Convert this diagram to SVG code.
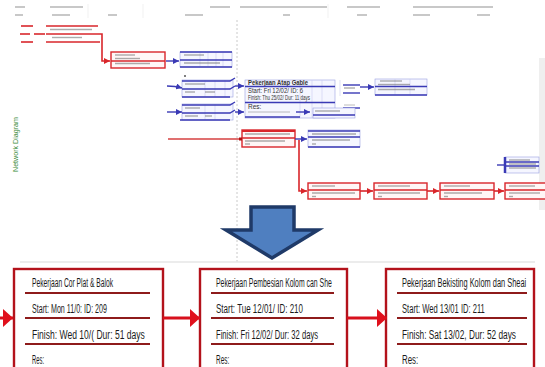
<svg xmlns="http://www.w3.org/2000/svg" width="545" height="367" viewBox="0 0 545 367">
<style>
.hdr{fill:#c8c8c8}
.r{stroke:#d9262b;stroke-width:1.6;fill:none}
.rbox{stroke:#d9262b;stroke-width:1.4;fill:#fff6f6}
.b{stroke:#3a3ab5;stroke-width:1.4;fill:none}
.bbox{stroke:#9aa0e0;stroke-width:0.6;fill:#f5f6ff}
.grid{stroke:#c9ccf0;stroke-width:0.6}
.blur{stroke:#6a6a6a;stroke-width:1.4;opacity:.55}
.small{font-family:"Liberation Sans",Arial,sans-serif;font-size:6.5px;fill:#333}
.big{stroke:#b3121b;stroke-width:2.4;fill:#fff}
.div{stroke:#8e1b1b;stroke-width:2}
.t{font-family:"Liberation Sans",Arial,sans-serif;font-size:13.5px;fill:#1a1a1a}
.con{stroke:#d8101c;stroke-width:3;fill:none}
</style>
<defs>
<marker id="ra" markerUnits="userSpaceOnUse" markerWidth="6" markerHeight="6" refX="6" refY="3" orient="auto"><path d="M0,0 L6,3 L0,6 z" fill="#d9262b"/></marker>
<marker id="ba" markerUnits="userSpaceOnUse" markerWidth="6" markerHeight="6" refX="6" refY="3" orient="auto"><path d="M0,0 L6,3 L0,6 z" fill="#3a3ab5"/></marker>
<marker id="RA" markerUnits="userSpaceOnUse" markerWidth="10" markerHeight="18" refX="10" refY="9" orient="auto"><path d="M0,0 L10,9 L0,18 z" fill="#e0101c"/></marker>
</defs>

<!-- header of screenshot -->
<g id="header">
<rect class="hdr" x="15" y="6" width="10" height="2"/><rect class="hdr" x="50" y="6" width="33" height="2"/>
<rect class="hdr" x="210" y="6" width="20" height="2"/><rect class="hdr" x="240" y="6" width="87" height="2"/>
<rect class="hdr" x="347" y="6" width="33" height="2"/><rect class="hdr" x="413" y="6" width="80" height="2"/>
<rect class="hdr" x="15" y="14" width="8" height="2"/><rect class="hdr" x="52" y="14" width="18" height="2"/>
<rect class="hdr" x="108" y="14" width="9" height="2"/><rect class="hdr" x="185" y="14" width="18" height="2"/>
<rect class="hdr" x="283" y="14" width="7" height="2"/><rect class="hdr" x="357" y="14" width="10" height="2"/>
<rect class="hdr" x="413" y="14" width="17" height="2"/><rect class="hdr" x="477" y="14" width="13" height="2"/>
<line x1="88" y1="4" x2="88" y2="18" stroke="#eee" stroke-width="0.8"/>
<line x1="143" y1="4" x2="143" y2="18" stroke="#eee" stroke-width="0.8"/>
<line x1="328" y1="4" x2="328" y2="18" stroke="#eee" stroke-width="0.8"/>
</g>
<line x1="237" y1="20" x2="237" y2="262" stroke="#bdbdbd" stroke-width="0.8" stroke-dasharray="2,2"/>
<rect x="539" y="58" width="6" height="152" fill="#efefef"/>
<text x="18" y="172" transform="rotate(-90 18 172)" font-family="Liberation Sans,Arial,sans-serif" font-size="6.5" fill="#3c8c3c" textLength="55" lengthAdjust="spacingAndGlyphs">Network Diagram</text>

<!-- top network nodes -->
<g id="top-n0">
<line class="r" x1="21" y1="26" x2="33" y2="26"/><line class="r" x1="46" y1="26" x2="98" y2="26"/>
<line class="r" x1="20" y1="34" x2="30" y2="34"/><line class="r" x1="34" y1="34" x2="45" y2="34"/><line class="r" x1="46" y1="34" x2="98" y2="34"/>
<line class="r" x1="21" y1="42" x2="33" y2="42"/><line class="r" x1="46" y1="42" x2="100" y2="42"/>
<line class="blur" x1="50" y1="29.5" x2="92" y2="29.5"/><line class="blur" x1="52" y1="37.5" x2="82" y2="37.5"/>
</g>
<g id="top-n1">
<rect class="rbox" x="111" y="52" width="54" height="16"/>
<line class="blur" x1="115" y1="55" x2="135" y2="55"/><line class="blur" x1="115" y1="58.5" x2="140" y2="58.5"/>
<line class="r" x1="111" y1="61" x2="165" y2="61"/>
<line class="blur" x1="115" y1="63.5" x2="150" y2="63.5"/>
</g>
<g id="top-n2">
<rect class="bbox" x="180" y="52" width="52" height="15"/>
<line class="grid" x1="200" y1="52" x2="200" y2="67"/><line class="grid" x1="208" y1="52" x2="208" y2="67"/><line class="grid" x1="216" y1="52" x2="216" y2="67"/><line class="grid" x1="223" y1="52" x2="223" y2="67"/>
<line class="b" x1="180" y1="52" x2="232" y2="52"/>
<line class="blur" x1="184" y1="55" x2="204" y2="55"/>
<line class="b" x1="180" y1="60" x2="232" y2="60"/>
<line class="blur" x1="184" y1="63" x2="220" y2="63"/>
<line class="b" x1="180" y1="67" x2="232" y2="67"/>
<circle cx="185" cy="76" r="1" fill="#555"/>
</g>
<g id="top-n3">
<rect class="bbox" x="182" y="80" width="51" height="17"/>
<line class="grid" x1="205" y1="80" x2="205" y2="97"/><line class="grid" x1="215" y1="80" x2="215" y2="97"/><line class="grid" x1="225" y1="80" x2="225" y2="97"/>
<path class="b" d="M182 81 H230 L235 78 M182 89 H230 L235 86 M182 97 H230"/>
<line class="blur" x1="185" y1="84" x2="205" y2="84"/><line class="blur" x1="185" y1="92" x2="195" y2="92"/><line class="blur" x1="205" y1="92" x2="215" y2="92"/>
</g>
<g id="top-n4">
<rect class="bbox" x="182" y="104" width="51" height="16"/>
<line class="grid" x1="205" y1="104" x2="205" y2="120"/><line class="grid" x1="215" y1="104" x2="215" y2="120"/>
<path class="b" d="M182 105 H230 L235 102 M182 113 H230 L235 110 M180 120 H230"/>
<line class="blur" x1="185" y1="108" x2="200" y2="108"/><line class="blur" x1="185" y1="116" x2="198" y2="116"/><line class="blur" x1="205" y1="116" x2="212" y2="116"/>
</g>
<g id="top-n5">
<rect class="bbox" x="245" y="80" width="90" height="38"/>
<line class="grid" x1="300" y1="80" x2="300" y2="118"/><line class="grid" x1="312" y1="80" x2="312" y2="118"/><line class="grid" x1="322" y1="80" x2="322" y2="118"/>
<text class="small" x="248" y="84.5" font-weight="bold" textLength="60" lengthAdjust="spacingAndGlyphs">Pekerjaan Atap Gable</text>
<line class="b" x1="245" y1="86.5" x2="335" y2="86.5"/>
<text class="small" x="248" y="92.5" textLength="55" lengthAdjust="spacingAndGlyphs">Start: Fri 12/02/  ID: 6</text>
<text class="small" x="248" y="100" textLength="62" lengthAdjust="spacingAndGlyphs">Finish: Thu 25/02/ Dur: 11 days</text>
<line class="b" x1="245" y1="102.5" x2="335" y2="102.5"/>
<text class="small" x="248" y="108.5">Res:</text>
<line class="blur" x1="248" y1="112" x2="290" y2="112" style="stroke-width:0.8"/>
<line class="b" x1="245" y1="117" x2="300" y2="117"/>
</g>
<g id="top-n6">
<line class="grid" x1="340" y1="80" x2="340" y2="96"/>
<line class="b" x1="343" y1="85" x2="360" y2="85"/><line class="b" x1="343" y1="93" x2="360" y2="93"/>
<line class="blur" x1="344" y1="88" x2="355" y2="88"/>
<line class="blur" x1="344" y1="105" x2="355" y2="105" style="stroke-width:0.8"/>
<line class="b" x1="343" y1="108" x2="360" y2="108"/>
</g>
<g id="top-n7">
<rect class="bbox" x="375" y="79" width="52" height="16"/>
<line class="grid" x1="395" y1="79" x2="395" y2="95"/><line class="grid" x1="410" y1="79" x2="410" y2="95"/>
<line class="blur" x1="380" y1="81" x2="402" y2="81"/><line class="blur" x1="378" y1="84.5" x2="410" y2="84.5"/>
<line class="b" x1="375" y1="86.5" x2="427" y2="86.5"/>
<line class="blur" x1="378" y1="89.5" x2="415" y2="89.5"/>
<line class="b" x1="375" y1="95" x2="427" y2="95"/>
</g>
<g id="top-n8">
<rect class="bbox" x="313" y="108" width="42" height="10"/>
<line class="blur" x1="315" y1="111" x2="340" y2="111"/>
<line class="b" x1="313" y1="115" x2="355" y2="115"/>
</g>
<g id="top-n9">
<rect class="rbox" x="242" y="130" width="53" height="17"/>
<line x1="242" y1="131" x2="295" y2="131" stroke="#d9262b" stroke-width="2.2"/>
<line class="blur" x1="245" y1="134" x2="290" y2="134"/>
<line class="r" x1="242" y1="138" x2="295" y2="138"/>
<line class="blur" x1="245" y1="141" x2="285" y2="141"/><line class="blur" x1="245" y1="144" x2="250" y2="144"/>
</g>
<g id="top-n10">
<rect class="bbox" x="308" y="130" width="52" height="17"/>
<line class="b" x1="308" y1="131" x2="360" y2="131"/>
<line class="blur" x1="312" y1="134" x2="356" y2="134"/>
<line class="b" x1="308" y1="137" x2="360" y2="137"/>
<line class="blur" x1="312" y1="140" x2="350" y2="140"/><line class="blur" x1="312" y1="144" x2="316" y2="144"/>
<line class="b" x1="308" y1="147" x2="360" y2="147"/>
</g>
<g id="top-n11">
<rect class="bbox" x="505" y="157" width="34" height="16"/>
<line x1="505" y1="157" x2="505" y2="173" stroke="#3a3ab5" stroke-width="2.5"/>
<line class="blur" x1="509" y1="160" x2="530" y2="160"/><line class="blur" x1="509" y1="164" x2="536" y2="164"/><line class="blur" x1="509" y1="168" x2="536" y2="168"/>
<line class="b" x1="505" y1="162" x2="539" y2="162"/><line class="b" x1="505" y1="166" x2="539" y2="166"/>
</g>
<g id="top-r1"><rect class="rbox" x="308" y="183" width="52" height="16"/><line class="blur" x1="312" y1="186" x2="335" y2="186"/><line class="r" x1="308" y1="190" x2="360" y2="190"/><line class="blur" x1="312" y1="193" x2="355" y2="193"/><line class="blur" x1="312" y1="196.5" x2="316" y2="196.5"/></g>
<g id="top-r2"><rect class="rbox" x="374" y="183" width="53" height="16"/><line class="blur" x1="378" y1="186" x2="410" y2="186"/><line class="r" x1="374" y1="190" x2="427" y2="190"/><line class="blur" x1="378" y1="193" x2="420" y2="193"/><line class="blur" x1="378" y1="196.5" x2="382" y2="196.5"/></g>
<g id="top-r3"><rect class="rbox" x="440" y="183" width="54" height="16"/><line class="blur" x1="444" y1="186" x2="470" y2="186"/><line class="r" x1="440" y1="190" x2="494" y2="190"/><line class="blur" x1="444" y1="193" x2="482" y2="193"/><line class="blur" x1="444" y1="196.5" x2="448" y2="196.5"/></g>
<g id="top-r4"><rect class="rbox" x="505" y="183" width="45" height="16"/><line class="blur" x1="509" y1="186" x2="535" y2="186"/><line class="r" x1="505" y1="190" x2="545" y2="190"/><line class="blur" x1="509" y1="193" x2="540" y2="193"/><line class="blur" x1="509" y1="196.5" x2="513" y2="196.5"/></g>

<g id="top-connectors">
<path class="r" d="M98 34 H102 V61 H110" marker-end="url(#ra)"/>
<path class="b" d="M166 61 H179" marker-end="url(#ba)"/>
<path class="b" d="M167 86 Q175 86 182 88" marker-end="url(#ba)"/>
<path class="b" d="M167 112 H182" marker-end="url(#ba)"/>
<path class="b" d="M235 86 H244" marker-end="url(#ba)"/>
<path class="b" d="M235 112 H244" marker-end="url(#ba)"/>
<path class="b" d="M360 87 H374" marker-end="url(#ba)"/>
<path class="b" d="M296 112 H310" marker-end="url(#ba)"/>
<path d="M168 139 H242" stroke="#e07070" stroke-width="2.2" fill="none"/>
<rect x="239" y="137.5" width="3" height="3" fill="#b01010"/>
<path class="b" d="M295 139 H307" marker-end="url(#ba)"/>
<path class="r" d="M299 140 V191 H307" marker-end="url(#ra)"/>
<path class="r" d="M360 191 H373" marker-end="url(#ra)"/>
<path class="r" d="M427 191 H439" marker-end="url(#ra)"/>
<path class="r" d="M494 191 H504" marker-end="url(#ra)"/>
<path class="b" d="M497 165 H504"/>
</g>

<!-- big arrow -->
<g id="down-arrow">
<polygon points="251,207 294,207 294,230 318,230 272,258 226,230 251,230" fill="#4f7fc0" stroke="#1f3a68" stroke-width="3.5" stroke-linejoin="miter"/>
</g>

<line x1="20" y1="262" x2="535" y2="262" stroke="#e6e6e6" stroke-width="1.5"/>

<!-- bottom nodes (text condensed by horizontal scale 0.6) -->
<g id="node-209">
<rect class="big" x="14" y="269" width="149" height="110"/>
<line class="div" x1="25" y1="293" x2="150" y2="293"/>
<line class="div" x1="25" y1="318" x2="150" y2="318"/>
<line class="div" x1="25" y1="344" x2="150" y2="344"/>
<text class="t" transform="translate(32 287) scale(0.6 1)" textLength="135" lengthAdjust="spacingAndGlyphs">Pekerjaan Cor Plat &amp; Balok</text>
<text class="t" transform="translate(32 313) scale(0.6 1)" textLength="125" lengthAdjust="spacingAndGlyphs">Start: Mon 11/0: ID:  209</text>
<text class="t" transform="translate(32 339) scale(0.6 1)" textLength="188" lengthAdjust="spacingAndGlyphs">Finish: Wed 10/( Dur: 51 days</text>
<text class="t" transform="translate(32 364) scale(0.6 1)" textLength="20" lengthAdjust="spacingAndGlyphs">Res:</text>
</g>
<g id="node-210">
<rect class="big" x="200" y="269" width="147" height="110"/>
<line class="div" x1="211" y1="293" x2="334" y2="293"/>
<line class="div" x1="211" y1="318" x2="334" y2="318"/>
<line class="div" x1="211" y1="344" x2="334" y2="344"/>
<text class="t" transform="translate(216 287) scale(0.6 1)" textLength="193" lengthAdjust="spacingAndGlyphs">Pekerjaan Pembesian Kolom can She</text>
<text class="t" transform="translate(216 313) scale(0.6 1)" textLength="145" lengthAdjust="spacingAndGlyphs">Start: Tue 12/01/ ID:  210</text>
<text class="t" transform="translate(216 339) scale(0.6 1)" textLength="170" lengthAdjust="spacingAndGlyphs">Finish: Fri 12/02/ Dur: 32 days</text>
<text class="t" transform="translate(216 364) scale(0.6 1)" textLength="22" lengthAdjust="spacingAndGlyphs">Res:</text>
</g>
<g id="node-211">
<rect class="big" x="386" y="269" width="148" height="110"/>
<line class="div" x1="397" y1="293" x2="527" y2="293"/>
<line class="div" x1="397" y1="318" x2="527" y2="318"/>
<line class="div" x1="397" y1="344" x2="527" y2="344"/>
<text class="t" transform="translate(402 287) scale(0.6 1)" textLength="207" lengthAdjust="spacingAndGlyphs">Pekerjaan Bekisting Kolom dan Sheai</text>
<text class="t" transform="translate(402 313) scale(0.6 1)" textLength="138" lengthAdjust="spacingAndGlyphs">Start: Wed 13/01 ID:  211</text>
<text class="t" transform="translate(402 339) scale(0.6 1)" textLength="190" lengthAdjust="spacingAndGlyphs">Finish: Sat 13/02, Dur: 52 days</text>
<text class="t" transform="translate(402 364) scale(0.6 1)" textLength="27" lengthAdjust="spacingAndGlyphs">Res:</text>
</g>

<g id="connectors">
<path class="con" d="M0 318 H13" marker-end="url(#RA)"/>
<path class="con" d="M163 318 H200" marker-end="url(#RA)"/>
<path class="con" d="M347 318 H387" marker-end="url(#RA)"/>
</g>
</svg>
